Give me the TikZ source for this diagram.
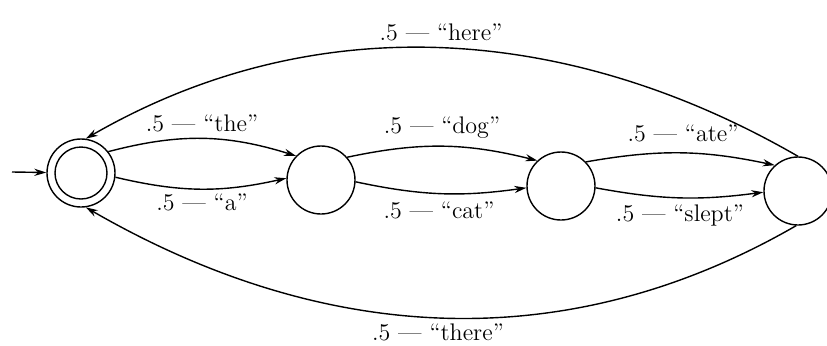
\documentclass[tikz,border=0pt]{standalone}
\usetikzlibrary{arrows.meta}
\begin{document}
\begin{tikzpicture}[x=0.5pt,y=0.5pt,
  state/.style={circle,draw,line width=0.7pt,minimum size=34pt,inner sep=0pt},
  innerring/.style={circle,draw,line width=0.7pt,minimum size=26pt,inner sep=0pt},
  edge/.style={draw,line width=0.7pt,-{Stealth[length=6pt,width=3.6pt]}},
  lbl/.style={font=\fontsize{12}{14}\selectfont,inner sep=1pt}]
\useasboundingbox (0,0) rectangle (827,345);
\node[state] (s0) at (81,172) {};
\node[innerring] (s0i) at (s0) {};
\node[state] (s1) at (321,165) {};
\node[state] (s2) at (561,159) {};
\node[state] (s3) at (798,154) {};
\coordinate (start) at (12,173);
\draw[edge] (start) -- (s0);
\draw[edge] (s0.38) to[bend left=16] (s1.136);
\draw[edge] (s0.-7) to[bend right=13] (s1.177);
\draw[edge] (s1.41) to[bend left=13] (s2.133);
\draw[edge] (s1.-3) to[bend right=10] (s2.183);
\draw[edge] (s2.44) to[bend left=11] (s3.132);
\draw[edge] (s2.-3) to[bend right=9] (s3.182);
\draw[edge] (s3.90) to[out=150,in=30,looseness=0.95] (s0.82);
\draw[edge] (s3.-93) to[out=210,in=-30,looseness=0.97] (s0.-82);
\node[lbl] (lthe) at (202,222) {.5 --- ``the''};
\node[lbl] (la) at (202,143) {.5 --- ``a''};
\node[lbl] (ldog) at (442,217) {.5 --- ``dog''};
\node[lbl] (lcat) at (439,135) {.5 --- ``cat''};
\node[lbl] (late) at (683,212) {.5 --- ``ate''};
\node[lbl] (lslept) at (680,130) {.5 --- ``slept''};
\node[lbl] (lhere) at (441,313) {.5 --- ``here''};
\node[lbl] (lthere) at (438,13) {.5 --- ``there''};
\end{tikzpicture}
\end{document}
